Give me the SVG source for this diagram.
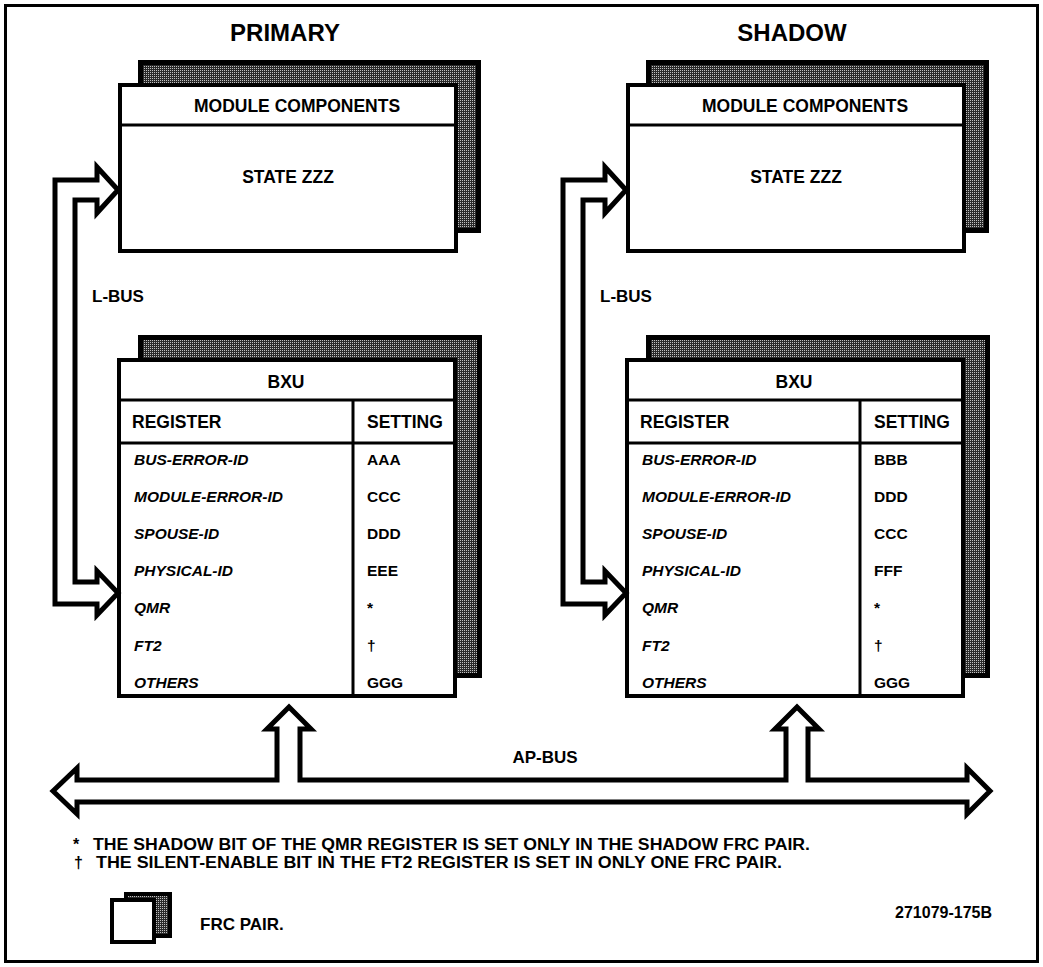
<svg xmlns="http://www.w3.org/2000/svg" width="1043" height="967" viewBox="0 0 1043 967">
<style>
text{font-family:"Liberation Sans",Arial,sans-serif;font-weight:bold;fill:#000}
.title{font-size:24px;text-anchor:middle}
.hd{font-size:17.5px}
.mid{text-anchor:middle}
.reg{font-size:15.5px;font-style:italic}
.val{font-size:15.5px}
.note{font-size:16px}
.front{fill:#fff;stroke:#000;stroke-width:4}
.shadow{fill:url(#stip);stroke:#000;stroke-width:5}
.div{stroke:#000;stroke-width:3}
.bus{fill:#fff;stroke:#000;stroke-width:5;stroke-linejoin:miter}
</style>
<defs>
<pattern id="stip" width="2" height="2" patternUnits="userSpaceOnUse">
<rect width="2" height="2" fill="#2a2a2a"/>
<rect x="0" y="0" width="1" height="1" fill="#c0c0c0"/>
</pattern>
</defs>
<rect x="5.5" y="5.5" width="1032" height="956" fill="#fff" stroke="#000" stroke-width="3"/>

<text class="title" x="285" y="41">PRIMARY</text>
<text class="title" x="792" y="41">SHADOW</text>

<g id="primary-module">
<rect class="shadow" x="140.5" y="62.5" width="338" height="168"/>
<rect class="front" x="120" y="85" width="336" height="166"/>
<line class="div" x1="120" y1="125" x2="456" y2="125"/>
<text class="hd mid" x="297" y="112">MODULE COMPONENTS</text>
<text class="hd mid" x="288" y="183">STATE ZZZ</text>
</g>

<g id="primary-bxu">
<rect class="shadow" x="140.5" y="337.5" width="339" height="338"/>
<rect class="front" x="119" y="360" width="336" height="336"/>
<line class="div" x1="119" y1="400" x2="455" y2="400"/>
<line class="div" x1="119" y1="443" x2="455" y2="443"/>
<line class="div" x1="353" y1="400" x2="353" y2="696"/>
<text class="hd mid" x="286" y="388">BXU</text>
<text class="hd" x="132" y="428">REGISTER</text>
<text class="hd" x="367" y="428">SETTING</text>
<text class="reg" x="134" y="465">BUS-ERROR-ID</text>
<text class="reg" x="134" y="502">MODULE-ERROR-ID</text>
<text class="reg" x="134" y="539">SPOUSE-ID</text>
<text class="reg" x="134" y="576">PHYSICAL-ID</text>
<text class="reg" x="134" y="613">QMR</text>
<text class="reg" x="134" y="651">FT2</text>
<text class="reg" x="134" y="688">OTHERS</text>
<text class="val" x="367" y="465">AAA</text>
<text class="val" x="367" y="502">CCC</text>
<text class="val" x="367" y="539">DDD</text>
<text class="val" x="367" y="576">EEE</text>
<text class="val" x="367" y="613">*</text>
<text class="val" x="367" y="651">†</text>
<text class="val" x="367" y="688">GGG</text>
</g>

<g id="shadow-module" transform="translate(508,0)">
<rect class="shadow" x="140.5" y="62.5" width="338" height="168"/>
<rect class="front" x="120" y="85" width="336" height="166"/>
<line class="div" x1="120" y1="125" x2="456" y2="125"/>
<text class="hd mid" x="297" y="112">MODULE COMPONENTS</text>
<text class="hd mid" x="288" y="183">STATE ZZZ</text>
</g>

<g id="shadow-bxu" transform="translate(508,0)">
<rect class="shadow" x="140.5" y="337.5" width="339" height="338"/>
<rect class="front" x="119" y="360" width="336" height="336"/>
<line class="div" x1="119" y1="400" x2="455" y2="400"/>
<line class="div" x1="119" y1="443" x2="455" y2="443"/>
<line class="div" x1="352" y1="400" x2="352" y2="696"/>
<text class="hd mid" x="286" y="388">BXU</text>
<text class="hd" x="132" y="428">REGISTER</text>
<text class="hd" x="366" y="428">SETTING</text>
<text class="reg" x="134" y="465">BUS-ERROR-ID</text>
<text class="reg" x="134" y="502">MODULE-ERROR-ID</text>
<text class="reg" x="134" y="539">SPOUSE-ID</text>
<text class="reg" x="134" y="576">PHYSICAL-ID</text>
<text class="reg" x="134" y="613">QMR</text>
<text class="reg" x="134" y="651">FT2</text>
<text class="reg" x="134" y="688">OTHERS</text>
<text class="val" x="366" y="465">BBB</text>
<text class="val" x="366" y="502">DDD</text>
<text class="val" x="366" y="539">CCC</text>
<text class="val" x="366" y="576">FFF</text>
<text class="val" x="366" y="613">*</text>
<text class="val" x="366" y="651">†</text>
<text class="val" x="366" y="688">GGG</text>
</g>

<g id="connectors">
<g id="l-bus-primary">
<path class="bus" d="M118,190 L97,167 L97,180 L55,180 L55,604 L97,604 L97,615 L118,593 L97,571 L97,582 L75,582 L75,200 L97,200 L97,213 Z"/>
<text class="hd" x="92" y="302" style="font-size:17px">L-BUS</text>
</g>
<g id="l-bus-shadow" transform="translate(508,0)">
<path class="bus" d="M118,190 L97,167 L97,180 L55,180 L55,604 L97,604 L97,615 L118,593 L97,571 L97,582 L75,582 L75,200 L97,200 L97,213 Z"/>
<text class="hd" x="92" y="302" style="font-size:17px">L-BUS</text>
</g>
<g id="ap-bus">
<path class="bus" d="M53,791 L77,768 L77,780 L277,780 L277,729 L267,729 L289,707 L311,729 L300,729 L300,780 L786,780 L786,729 L775,729 L797,707 L819,729 L808,729 L808,780 L967,780 L967,768 L990,791 L967,814 L967,802 L77,802 L77,814 Z"/>
<text class="hd mid" x="545" y="763" style="font-size:17px">AP-BUS</text>
</g>
</g>

<g id="notes">
<text class="note" x="73" y="850">*</text>
<text class="note" x="93" y="850" textLength="717" lengthAdjust="spacingAndGlyphs">THE SHADOW BIT OF THE QMR REGISTER IS SET ONLY IN THE SHADOW FRC PAIR.</text>
<text class="note" x="74" y="868">†</text>
<text class="note" x="96" y="868" textLength="686" lengthAdjust="spacingAndGlyphs">THE SILENT-ENABLE BIT IN THE FT2 REGISTER IS SET IN ONLY ONE FRC PAIR.</text>
</g>

<g id="legend">
<rect class="shadow" x="126" y="894" width="44" height="42" style="stroke-width:4"/>
<rect class="front" x="112" y="900" width="42" height="42"/>
<text class="note" x="200" y="930" style="font-size:17px">FRC PAIR.</text>
</g>

<text x="992" y="918" style="font-size:16px;text-anchor:end">271079-175B</text>
</svg>
